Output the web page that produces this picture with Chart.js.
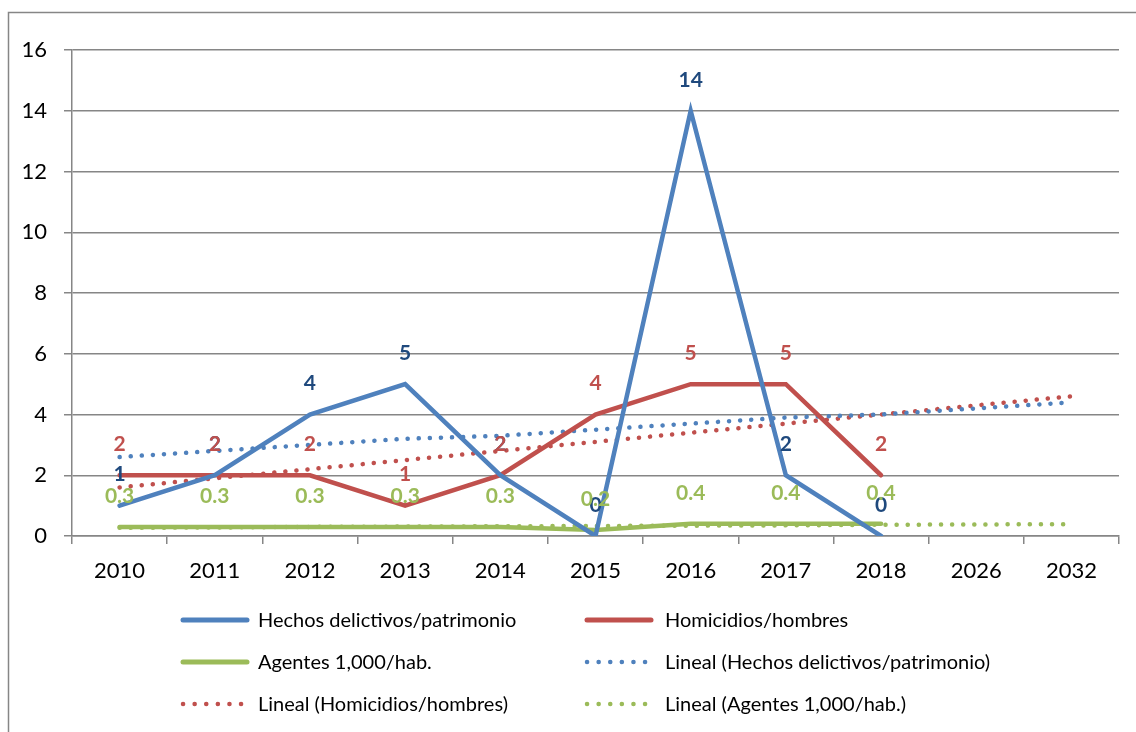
<!DOCTYPE html>
<html>
<head>
<meta charset="utf-8">
<script src="https://cdn.jsdelivr.net/npm/chart.js@4.4.1/dist/chart.umd.min.js"></script>
<style>
  html, body { margin: 0; padding: 0; background: #fff; }
  #wrap { position: relative; width: 1136px; height: 732px; }
</style>
</head>
<body>
<div id="wrap"><canvas id="chart"></canvas></div>
<script>
// datos
const years = ['2010', '2011', '2012', '2013', '2014', '2015', '2016', '2017', '2018', '2026', '2032'];
const hechos = [1, 2, 4, 5, 2, 0, 14, 2, 0, null, null];
const homicidios = [2, 2, 2, 1, 2, 4, 5, 5, 2, null, null];
const agentes = [0.3, 0.3, 0.3, 0.3, 0.3, 0.2, 0.4, 0.4, 0.4, null, null];
// líneas de tendencia (lineal)
const tendHechos = [2.6, 2.8, 3.0, 3.2, 3.3, 3.5, 3.7, 3.9, 4.0, 4.2, 4.4];
const tendHomicidios = [1.6, 1.9, 2.2, 2.5, 2.8, 3.1, 3.4, 3.7, 4.0, 4.3, 4.6];
const tendAgentes = [0.27, 0.28, 0.3, 0.31, 0.32, 0.33, 0.34, 0.35, 0.37, 0.38, 0.39];

const AZUL = '#4F81BD';
const ROJO = '#C0504D';
const VERDE = '#9BBB59';
const GRIS = '#868686';
const FONT = 'Lato, "Open Sans", sans-serif';

function serie(label, data, color, labelColor) {
  return {
    label: label,
    data: data,
    borderColor: color,
    backgroundColor: color,
    borderWidth: 4.5,
    pointRadius: 0,
    tension: 0,
    borderJoinStyle: 'miter',
    borderCapStyle: 'round',
    spanGaps: false,
    labelColor: labelColor,
  };
}

function tendencia(label, data, color) {
  return {
    label: label,
    data: data,
    borderColor: color,
    backgroundColor: color,
    borderWidth: 4.5,
    borderDash: [0.1, 11],
    borderCapStyle: 'round',
    pointRadius: 0,
    tension: 0,
    dotted: true,
  };
}

// etiquetas de datos encima de cada punto
const etiquetas = {
  id: 'etiquetas',
  afterDatasetsDraw(chart) {
    const ctx = chart.ctx;
    ctx.save();
    ctx.font = 'bold 21px ' + FONT;
    ctx.textAlign = 'center';
    ctx.textBaseline = 'middle';
    chart.data.datasets.forEach((ds, i) => {
      if (!ds.labelColor) return;
      const meta = chart.getDatasetMeta(i);
      ctx.fillStyle = ds.labelColor;
      meta.data.forEach((pt, j) => {
        const v = ds.data[j];
        if (v === null) return;
        ctx.fillText(String(v), pt.x, pt.y - 31);
      });
    });
    ctx.restore();
  },
};

// marco exterior y leyenda en dos columnas
const marcoLeyenda = {
  id: 'marcoLeyenda',
  beforeDraw(chart) {
    const ctx = chart.ctx;
    ctx.save();
    ctx.strokeStyle = GRIS;
    ctx.lineWidth = 1.5;
    ctx.beginPath();
    ctx.moveTo(8.5, 732);
    ctx.lineTo(8.5, 12.5);
    ctx.lineTo(1136, 12.5);
    ctx.stroke();
    ctx.restore();
  },
  afterDraw(chart) {
    const ctx = chart.ctx;
    const cols = [181, 585];
    const rows = [620, 662, 704];
    ctx.save();
    ctx.font = '20px ' + FONT;
    ctx.textBaseline = 'middle';
    ctx.fillStyle = '#000';
    chart.data.datasets.forEach((ds, i) => {
      const x = cols[i % 2];
      const y = rows[Math.floor(i / 2)];
      ctx.strokeStyle = ds.borderColor;
      ctx.lineCap = 'round';
      ctx.beginPath();
      if (ds.dotted) {
        ctx.lineWidth = 4.5;
        ctx.setLineDash([0.1, 11.5]);
        ctx.moveTo(x + 2, y);
        ctx.lineTo(x + 64, y);
      } else {
        ctx.lineWidth = 5;
        ctx.setLineDash([]);
        ctx.moveTo(x + 2, y);
        ctx.lineTo(x + 66, y);
      }
      ctx.stroke();
      ctx.fillText(ds.label, x + (i % 2 === 0 ? 77 : 80), y + 1);
    });
    ctx.restore();
  },
};

new Chart(document.getElementById('chart'), {
  type: 'line',
  data: {
    labels: years,
    datasets: [
      serie('Hechos delictivos/patrimonio', hechos, AZUL, '#1F497D'),
      serie('Homicidios/hombres', homicidios, ROJO, ROJO),
      serie('Agentes 1,000/hab.', agentes, VERDE, VERDE),
      tendencia('Lineal (Hechos delictivos/patrimonio)', tendHechos, AZUL),
      tendencia('Lineal (Homicidios/hombres)', tendHomicidios, ROJO),
      tendencia('Lineal (Agentes 1,000/hab.)', tendAgentes, VERDE),
    ],
  },
  options: {
    animation: false,
    responsive: true,
    maintainAspectRatio: false,
    layout: { padding: { top: 50, right: 17, bottom: 0, left: 0 } },
    plugins: {
      legend: { display: false },
      tooltip: { enabled: false },
    },
    scales: {
      x: {
        offset: true,
        grid: {
          offset: true,
          drawOnChartArea: false,
          color: GRIS,
          lineWidth: 1.5,
          tickLength: 8,
        },
        border: { color: GRIS, width: 1.5 },
        ticks: {
          color: '#000',
          font: { family: FONT, size: 22 },
          padding: 14,
          maxRotation: 0,
          autoSkip: false,
        },
        afterFit(scale) { scale.height = 196; },
      },
      y: {
        min: 0,
        max: 16,
        grid: {
          color: GRIS,
          lineWidth: 1.5,
          tickLength: 8,
        },
        border: { color: GRIS, width: 1.5 },
        ticks: {
          stepSize: 2,
          color: '#000',
          font: { family: FONT, size: 22 },
          padding: 17,
        },
        afterFit(scale) { scale.width = 72; },
      },
    },
  },
  plugins: [etiquetas, marcoLeyenda],
});
</script>
</body>
</html>
